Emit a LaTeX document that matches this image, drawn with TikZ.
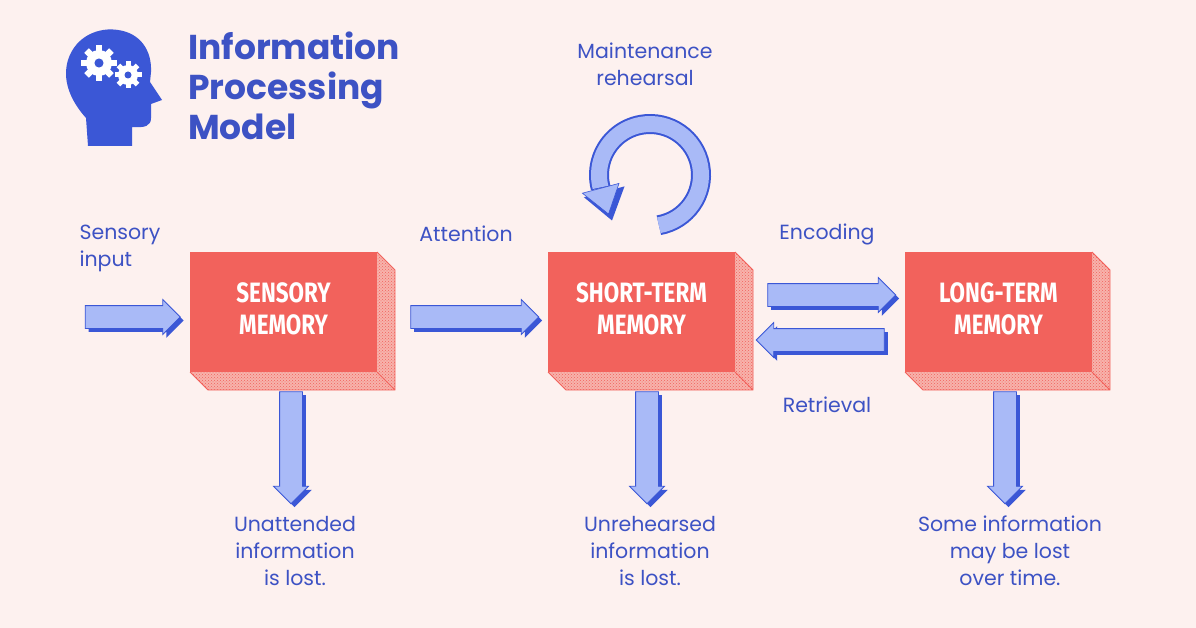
\documentclass[tikz,border=0pt]{standalone}
\usepackage{fontspec}
\setmainfont{Poppins}
\newfontfamily\boxfont{Fira Sans}
\usetikzlibrary{shapes.arrows,shadows,patterns,arrows.meta}
\definecolor{bg}{HTML}{FDF1EF}
\definecolor{boxred}{HTML}{F2625C}
\definecolor{hatch}{HTML}{F7B3AC}
\definecolor{dblue}{HTML}{3B57D6}
\definecolor{lblue}{HTML}{A9BAF7}
\definecolor{tblue}{HTML}{3D52C4}
\begin{document}
\begin{tikzpicture}[x=1pt,y=-1pt,
  lbl/.style={text=tblue,font=\fontsize{20.5}{27}\selectfont,align=center},
  mem/.style={fill=boxred,minimum width=187pt,minimum height=120pt,text=white,
    font=\boxfont\bfseries\fontsize{28}{32}\selectfont,align=center,inner sep=0pt},
  barrow/.style={single arrow,fill=lblue,draw=dblue,line width=0.8pt,
    single arrow head extend=6pt,single arrow tip angle=90,minimum height=#1,
    inner sep=0pt,
    general shadow={shadow xshift=3.5pt,shadow yshift=-3.5pt,fill=dblue}},
]
\useasboundingbox (0,0) rectangle (1196,628);
\fill[bg] (0,0) rectangle (1196,628);

% 3D boxes
\foreach \x/\n/\t in {190/sm/SENSORY\\MEMORY,548/stm/SHORT-TERM\\MEMORY,905/ltm/LONG-TERM\\MEMORY}{
  \fill[hatch] (\x+187,252) -- (\x+205,270) -- (\x+205,390) -- (\x+18,390) -- (\x,372) -- (\x+187,372) -- cycle;
  \fill[pattern=crosshatch dots,pattern color=boxred] (\x+187,252) -- (\x+205,270) -- (\x+205,390) -- (\x+18,390) -- (\x,372) -- (\x+187,372) -- cycle;
  \draw[boxred,line width=0.8pt] (\x+187,252) -- (\x+205,270) -- (\x+205,390) -- (\x+18,390) -- (\x,372) (\x+187,372) -- (\x+205,390);
  \node[mem] (\n) at (\x+93.5,312) {\scalebox{0.8}[1]{\begin{tabular}{c}\t\end{tabular}}};
}

% horizontal arrows
\node[barrow=95pt] (a1) at (127,317) {\rule{0pt}{22pt}};
\node[barrow=128pt] (a2) at (469,317) {\rule{0pt}{22pt}};
\node[barrow=128pt] (a3) at (826,295) {\rule{0pt}{22pt}};
\node[barrow=128pt,shape border rotate=180] (a4) at (826,340) {\rule{0pt}{22pt}};
% down arrows
\node[barrow=112pt,shape border rotate=270] (d1) at (291,442) {\rule{22pt}{0pt}};
\node[barrow=112pt,shape border rotate=270] (d2) at (647,442) {\rule{22pt}{0pt}};
\node[barrow=112pt,shape border rotate=270] (d3) at (1005,442) {\rule{22pt}{0pt}};

% circular arrow (maintenance rehearsal loop)
\coordinate (cc) at (650,175);
\begin{scope}[shift={(3.5,3.5)}]
  \draw[dblue,line width=20pt] (cc) ++(80:51) arc[start angle=80,end angle=-195,radius=51];
  \fill[dblue] (580.4,193.7) -- (621,182.9) -- (608.5,217) -- cycle;
\end{scope}
\draw[lblue,line width=16pt] (cc) ++(80:51) arc[start angle=80,end angle=-194,radius=51];
\draw[dblue,line width=0.6pt,fill=lblue] (582.4,193.2) -- (619,183.4) -- (608.5,214) -- cycle;

% labels
\node[lbl,align=left,anchor=west] (l1) at (76,248) {Sensory\\input};
\node[lbl] (l2) at (466,234) {Attention};
\node[lbl] (l3) at (645,64) {Maintenance\\rehearsal};
\node[lbl] (l4) at (827,234) {Encoding};
\node[lbl] (l5) at (827,405) {Retrieval};
\node[lbl] (l6) at (295,551) {Unattended\\information\\is lost.};
\node[lbl] (l7) at (650,551) {Unrehearsed\\information\\is lost.};
\node[lbl] (l8) at (1010,551) {Some information\\may be lost\\over time.};

% title
\node[anchor=north west,text=tblue,font=\fontsize{34.5}{40}\selectfont\bfseries,align=left,inner sep=0pt] (title) at (188,32) {Information\\Processing\\Model};

% head icon
\fill[dblue] (88,146) -- (86,118) .. controls (70,100) and (62,80) .. (68,60)
  .. controls (76,35) and (100,27) .. (118,30)
  .. controls (140,33) and (152,50) .. (151,72)
  -- (150,82) -- (162,100) -- (151,104) -- (151,118)
  .. controls (151,126) and (145,128) .. (132,127) -- (132,146) -- cycle;
\foreach \cx/\cy/\r in {99/63/13,128/75/10}{
  \fill[white] (\cx,\cy) circle (\r);
  \foreach \a in {0,45,...,315}
    \fill[white,rotate around={\a:(\cx,\cy)}] (\cx-0.25*\r,\cy-\r-0.35*\r) rectangle (\cx+0.25*\r,\cy);
  \fill[dblue] (\cx,\cy) circle (0.35*\r);
}
\end{tikzpicture}
\end{document}
